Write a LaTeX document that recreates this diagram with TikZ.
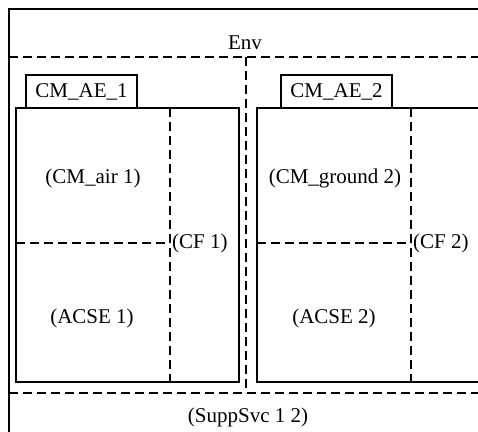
\documentclass[tikz,border=0pt]{standalone}
\usepackage{fontspec}
\setmainfont{Liberation Serif}
\tikzstyle{txt}=[inner sep=2pt, font=\fontsize{21}{25}\selectfont]
\tikzstyle{tag}=[draw, line width=2pt, minimum width=111pt, minimum height=33pt, inner sep=0pt, font=\fontsize{21}{25}\selectfont]
\tikzstyle{dsh}=[line width=2.5pt, dash pattern=on 9pt off 5pt]
\tikzstyle{sld}=[line width=2pt]

\begin{document}
\begin{tikzpicture}[x=1pt,y=-1pt]
\def \w {478}
\def \h {431}
\useasboundingbox (0,0) rectangle (\w,\h);
\clip (0,0) rectangle (\w,\h);
% outer frame, cut off at right and bottom
\draw[sld] (\w+10,9) -- (9,9) -- (9,\h+10);
\node[txt] (env) at (245,43) {Env};
\draw[dsh] (9,57) -- (\w+10,57);
\draw[dsh] (246,57) -- (246,393);
\draw[dsh] (9,393) -- (\w+10,393);
\node[txt] (supp) at (248,417) {(SuppSvc 1 2)};
% first entity
\draw[sld] (16,108) rectangle (239,382);
\node[tag] (ae1) at (81.5,91.5) {CM\_AE\_1};
\coordinate (cf1top) at (170,108);
\coordinate (cf1bot) at (170,382);
\coordinate (cf1mid) at (170,243);
\coordinate (left1) at (16,243);
\draw[dsh] (cf1top) -- (cf1bot);
\draw[dsh] (left1) -- (cf1mid);
\node[txt] (air1) at (93,178) {(CM\_air 1)};
\node[txt] (acse1) at (92,318) {(ACSE 1)};
\node[txt, anchor=west] (cf1) at (cf1mid) {(CF 1)};
% second entity
\draw[sld] (257,108) rectangle (\w+10,382);
\node[tag] (ae2) at (336.5,91.5) {CM\_AE\_2};
\coordinate (cf2top) at (411,108);
\coordinate (cf2bot) at (411,382);
\coordinate (cf2mid) at (411,243);
\coordinate (left2) at (257,243);
\draw[dsh] (cf2top) -- (cf2bot);
\draw[dsh] (left2) -- (cf2mid);
\node[txt] (ground2) at (335,178) {(CM\_ground 2)};
\node[txt] (acse2) at (334,318) {(ACSE 2)};
\node[txt, anchor=west] (cf2) at (cf2mid) {(CF 2)};
\end{tikzpicture}
\end{document}
